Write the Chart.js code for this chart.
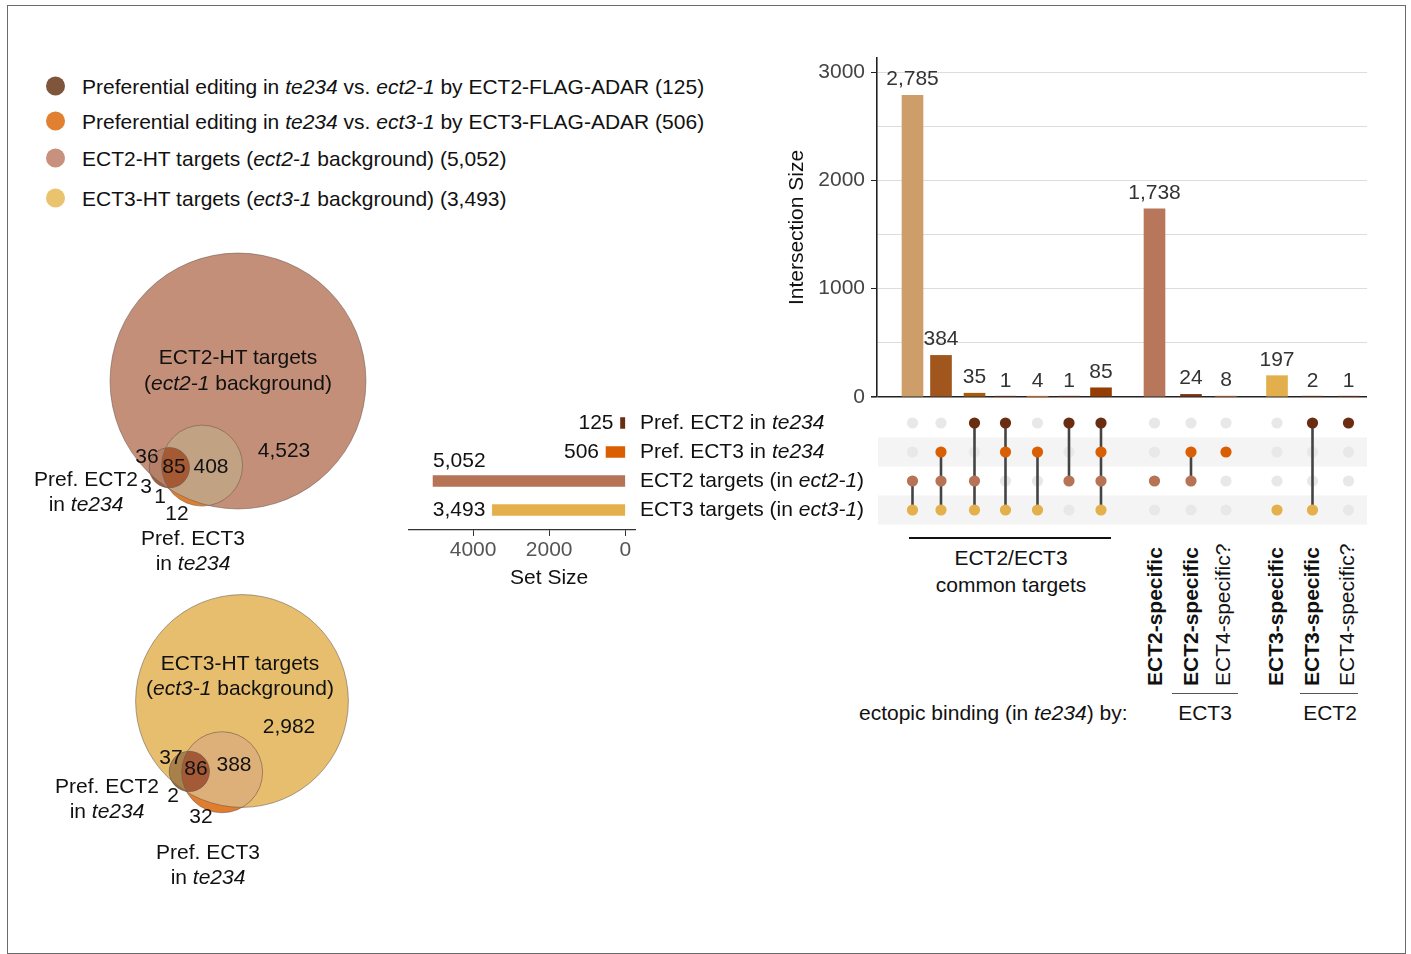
<!DOCTYPE html>
<html>
<head>
<meta charset="utf-8">
<title>ECT2 / ECT3 target overlaps</title>
<script src="https://cdn.jsdelivr.net/npm/chart.js@4.4.1/dist/chart.umd.min.js"></script>
<style>
  html, body { margin: 0; padding: 0; background: #fff; }
  body { width: 1411px; height: 954px; position: relative; overflow: hidden;
         font-family: "Liberation Sans", Arial, sans-serif; color: #111; }
  canvas { position: absolute; }
  .frame { position: absolute; left: 7px; top: 5px; width: 1399px; height: 949px;
           border: 1px solid #6b6b6b; box-sizing: border-box; }
  .t { position: absolute; white-space: nowrap; font-size: 21px; line-height: 1; }
  .c { transform: translate(-50%, -50%); }
  .l { transform: translateY(-50%); }
  .rot { transform: rotate(-90deg); transform-origin: 0 0; }
  .b { font-weight: bold; }
  .rule { position: absolute; }
  .leg { position: absolute; left: 46px; display: flex; align-items: center;
         font-size: 21px; line-height: 1; white-space: nowrap; transform: translateY(-50%); }
  .dot { width: 19px; height: 19px; border-radius: 50%; margin-right: 17px; flex: none; }
</style>
</head>
<body>
<div class="frame"></div>

<canvas id="venn" width="400" height="680" style="left:0;top:230px"></canvas>
<canvas id="matrix" width="510" height="130" style="left:870px;top:400px"></canvas>
<canvas id="bars" width="610" height="362" style="left:770px;top:50px"></canvas>
<canvas id="setsize" width="480" height="200" style="left:400px;top:395px"></canvas>

<div id="legend"></div>

<!-- Euler diagram captions -->
<div class="t c" style="left:238px;top:356px">ECT2-HT targets</div>
<div class="t c" style="left:238px;top:382px">(<i>ect2-1</i> background)</div>
<div class="t c" style="left:86px;top:478px">Pref. ECT2</div>
<div class="t c" style="left:86px;top:503px">in <i>te234</i></div>
<div class="t c" style="left:193px;top:537px">Pref. ECT3</div>
<div class="t c" style="left:193px;top:562px">in <i>te234</i></div>

<div class="t c" style="left:240px;top:662px">ECT3-HT targets</div>
<div class="t c" style="left:240px;top:687px">(<i>ect3-1</i> background)</div>
<div class="t c" style="left:107px;top:785px">Pref. ECT2</div>
<div class="t c" style="left:107px;top:810px">in <i>te234</i></div>
<div class="t c" style="left:208px;top:851px">Pref. ECT3</div>
<div class="t c" style="left:208px;top:876px">in <i>te234</i></div>

<!-- intersection group annotations -->
<div class="rule" style="left:909px;top:537px;width:202px;height:1.5px;background:#111"></div>
<div class="t c" style="left:1011px;top:557px">ECT2/ECT3</div>
<div class="t c" style="left:1011px;top:584px">common targets</div>

<div class="t rot b" style="left:1144px;top:686px">ECT2-specific</div>
<div class="t rot b" style="left:1180px;top:686px">ECT2-specific</div>
<div class="t rot"   style="left:1212px;top:686px">ECT4-specific?</div>
<div class="t rot b" style="left:1265px;top:686px">ECT3-specific</div>
<div class="t rot b" style="left:1301px;top:686px">ECT3-specific</div>
<div class="t rot"   style="left:1336px;top:686px">ECT4-specific?</div>

<div class="rule" style="left:1172px;top:693px;width:66px;height:1.3px;background:#555"></div>
<div class="rule" style="left:1300px;top:693px;width:58px;height:1.3px;background:#555"></div>
<div class="t l" style="left:859px;top:712px">ectopic binding (in <i>te234</i>) by:</div>
<div class="t c" style="left:1205px;top:712px">ECT3</div>
<div class="t c" style="left:1330px;top:712px">ECT2</div>

<script>
// ---------------- data ----------------
// sets, in matrix row order
const setSizes = [125, 506, 5052, 3493];
const setLabels = [
  [['Pref. ECT2 in ', false], ['te234', true]],
  [['Pref. ECT3 in ', false], ['te234', true]],
  [['ECT2 targets (in ', false], ['ect2-1', true], [')', false]],
  [['ECT3 targets (in ', false], ['ect3-1', true], [')', false]]
];
const setColors = ['#6A2D12', '#D95F02', '#B67356', '#E3B04B'];

// intersections: size and member rows (0 = Pref. ECT2, 1 = Pref. ECT3, 2 = ECT2 targets, 3 = ECT3 targets)
const intersectionSizes = [2785, 384, 35, 1, 4, 1, 85, 1738, 24, 8, 197, 2, 1];
const intersectionMembers = [[2, 3], [1, 2, 3], [0, 2, 3], [0, 1, 3], [1, 3], [0, 2], [0, 1, 2, 3],
                             [2], [1, 2], [1], [3], [0, 3], [0]];
const intersectionColors = ['#CD9E69', '#A0561C', '#A65C0A', '#5E2810', '#C8661A', '#5E2810', '#943E06',
                            '#B8775A', '#7D3414', '#DA783C', '#E3AF4C', '#5E2810', '#5E2810'];

// tick labels
const intersectionTicks = [0, 1000, 2000, 3000];
const setSizeTicks = [0, 2000, 4000];

// Euler diagrams: [big set, Pref. ECT3, Pref. ECT2] and the region counts
const vennSetsECT2 = [5052, 506, 125];
const vennRegionsECT2 = { bigOnly: 4523, bigP3: 408, bigP2: 36, all: 85, p2Only: 3, p2p3: 1, p3Only: 12 };
const vennSetsECT3 = [3493, 506, 125];
const vennRegionsECT3 = { bigOnly: 2982, bigP3: 388, bigP2: 37, all: 86, p2Only: 2, p2p3: 0, p3Only: 32 };

const legendItems = [
  { color: '#7F553C', html: 'Preferential editing in <i>te234</i> vs. <i>ect2-1</i> by ECT2-FLAG-ADAR', n: 125 },
  { color: '#E08030', html: 'Preferential editing in <i>te234</i> vs. <i>ect3-1</i> by ECT3-FLAG-ADAR', n: 506 },
  { color: '#C8917D', html: 'ECT2-HT targets (<i>ect2-1</i> background)', n: 5052 },
  { color: '#E9C36E', html: 'ECT3-HT targets (<i>ect3-1</i> background)', n: 3493 }
];

// ---------------- layout ----------------
const columnPos = [35.5, 64, 97.5, 128.5, 160.5, 192, 224, 277.5, 314, 349, 400, 435.5, 471.5];
const legendY = [86, 121, 158, 198];
const vennLayout = [
  { anchor: { x: 238, y: 381 }, angle: 113,
    labels: { bigOnly: [284, 451], bigP3: [211, 467], all: [174, 467], bigP2: [147, 457],
              p2Only: [146, 487], p2p3: [160, 497], p3Only: [177, 514] },
    palette: { big: '#C48F79', p3: '#E07E2E', p2: '#97613F', p3InBig: '#C1A283',
               p2InBig: '#B57F68', all: '#A65A33', p2p3: '#B8642C' } },
  { anchor: { x: 242, y: 701 }, angle: 105.6,
    labels: { bigOnly: [289, 727], bigP3: [234, 765], all: [196, 769], bigP2: [171, 758],
              p2Only: [173, 796], p3Only: [201, 817] },
    palette: { big: '#E6BE6D', p3: '#E07E2E', p2: '#8E6B3C', p3InBig: '#DDB07A',
               p2InBig: '#A88049', all: '#A45A36', p2p3: '#B8642C' } }
];

const FONT = "'Liberation Sans', Arial, sans-serif";
const fmt = v => v.toLocaleString('en-US');

Chart.defaults.font.family = FONT;
Chart.defaults.font.size = 21;
Chart.defaults.color = '#111';
Chart.defaults.animation = false;
Chart.defaults.plugins.legend.display = false;
Chart.defaults.plugins.tooltip.enabled = false;

function drawRich(ctx, segs, x, y, size, color) {
  let cx = x;
  ctx.textAlign = 'left';
  ctx.textBaseline = 'middle';
  ctx.fillStyle = color;
  segs.forEach(([txt, italic]) => {
    ctx.font = (italic ? 'italic ' : '') + size + 'px ' + FONT;
    ctx.fillText(txt, cx, y);
    cx += ctx.measureText(txt).width;
  });
}

// ---------------- legend ----------------
const legendHost = document.getElementById('legend');
legendItems.forEach((it, i) => {
  const row = document.createElement('div');
  row.className = 'leg';
  row.style.top = legendY[i] + 'px';
  row.innerHTML = '<span class="dot" style="background:' + it.color + '"></span><span>' +
                  it.html + ' (' + fmt(it.n) + ')</span>';
  legendHost.appendChild(row);
});

// ---------------- intersection size bars ----------------
const barValueLabels = {
  id: 'barValueLabels',
  afterDatasetsDraw(chart) {
    const { ctx } = chart;
    ctx.save();
    ctx.font = '21px ' + FONT;
    ctx.fillStyle = '#333';
    ctx.textAlign = 'center';
    ctx.textBaseline = 'alphabetic';
    chart.getDatasetMeta(0).data.forEach((bar, i) => {
      ctx.fillText(fmt(intersectionSizes[i]), bar.x, bar.y - 10);
    });
    ctx.restore();
  }
};

new Chart(document.getElementById('bars'), {
  type: 'bar',
  data: {
    datasets: [{
      data: intersectionSizes.map((v, i) => ({ x: columnPos[i], y: v })),
      backgroundColor: intersectionColors,
      barThickness: 21
    }]
  },
  options: {
    responsive: false,
    layout: { autoPadding: false, padding: { top: 8, right: 13, bottom: 15, left: 0 } },
    scales: {
      x: { type: 'linear', min: 0, max: 490, offset: false, display: false },
      y: {
        type: 'linear', min: 0, max: 3130,
        afterBuildTicks: s => { s.ticks = [0, 500, 1000, 1500, 2000, 2500, 3000].map(v => ({ value: v })); },
        afterFit: s => { s.width = 107; s.paddingTop = 0; s.paddingBottom = 0; },
        ticks: {
          callback: v => intersectionTicks.includes(v) ? String(v) : '',
          color: '#444', padding: 6, font: { size: 21 }
        },
        grid: {
          color: c => c.tick && c.tick.value === 0 ? '#222' : '#DDDDDD',
          lineWidth: c => c.tick && c.tick.value === 0 ? 1.6 : 1,
          tickLength: 6,
          tickColor: c => c.tick && intersectionTicks.includes(c.tick.value) ? '#222' : 'rgba(0,0,0,0)'
        },
        border: { display: true, color: '#222', width: 1.6 },
        title: { display: true, text: 'Intersection Size', color: '#111', font: { size: 21 },
                 padding: { top: 15, bottom: 0 } }
      }
    }
  },
  plugins: [barValueLabels]
});

// ---------------- membership matrix ----------------
const inactiveCells = [], activeCells = [], linkSegments = [];
intersectionMembers.forEach((rows, c) => {
  for (let r = 0; r < setSizes.length; r++) {
    (rows.includes(r) ? activeCells : inactiveCells).push({ x: columnPos[c], y: r });
  }
  if (rows.length > 1) {
    linkSegments.push({ x: columnPos[c], y: Math.min(...rows) },
                      { x: columnPos[c], y: Math.max(...rows) },
                      { x: columnPos[c], y: null });
  }
});

const rowBands = {
  id: 'rowBands',
  beforeDatasetsDraw(chart) {
    const { ctx, chartArea, scales: { y } } = chart;
    ctx.save();
    ctx.fillStyle = '#F4F4F4';
    [1, 3].forEach(r => {
      const top = y.getPixelForValue(r - 0.5), bottom = y.getPixelForValue(r + 0.5);
      ctx.fillRect(chartArea.left + 1, top, chartArea.right - chartArea.left - 1, bottom - top);
    });
    ctx.restore();
  }
};

new Chart(document.getElementById('matrix'), {
  type: 'scatter',
  data: {
    datasets: [
      { data: inactiveCells, pointRadius: 5.6, pointBackgroundColor: '#E8E8E8', pointBorderWidth: 0, order: 3 },
      { type: 'line', data: linkSegments, borderColor: '#444', borderWidth: 2.6, pointRadius: 0,
        spanGaps: false, fill: false, order: 2 },
      { data: activeCells, pointRadius: 5.6, pointBorderWidth: 0,
        pointBackgroundColor: c => setColors[c.raw.y], order: 1 }
    ]
  },
  options: {
    responsive: false,
    layout: { autoPadding: false, padding: { top: 8.5, right: 13, bottom: 5.5, left: 7 } },
    scales: {
      x: { type: 'linear', min: 0, max: 490, display: false },
      y: { type: 'linear', min: -0.5, max: 3.5, reverse: true, display: false }
    }
  },
  plugins: [rowBands]
});

// ---------------- set sizes ----------------
const setSizeLabels = {
  id: 'setSizeLabels',
  afterDatasetsDraw(chart) {
    const { ctx, chartArea, scales: { x } } = chart;
    ctx.save();
    chart.getDatasetMeta(0).data.forEach((bar, i) => {
      const txt = fmt(setSizes[i]);
      ctx.font = '21px ' + FONT;
      ctx.fillStyle = '#111';
      const w = ctx.measureText(txt).width;
      const left = Math.min(bar.x, bar.base);
      if (left - 7 - w >= chartArea.left) {
        ctx.textAlign = 'right';
        ctx.textBaseline = 'middle';
        ctx.fillText(txt, left - 7, bar.y);
      } else {
        ctx.textAlign = 'left';
        ctx.textBaseline = 'alphabetic';
        ctx.fillText(txt, left, bar.y - 13.5);
      }
      drawRich(ctx, setLabels[i], chartArea.right + 5, bar.y, 21, '#111');
    });
    // axis title, centred under the middle tick
    ctx.font = '21px ' + FONT;
    ctx.fillStyle = '#111';
    ctx.textAlign = 'center';
    ctx.textBaseline = 'middle';
    ctx.fillText('Set Size', x.getPixelForValue(setSizeTicks[1]), chartArea.bottom + 48);
    ctx.restore();
  }
};

new Chart(document.getElementById('setsize'), {
  type: 'bar',
  data: {
    datasets: [{
      data: setSizes.map((v, i) => ({ x: v, y: i })),
      backgroundColor: setColors,
      barThickness: 11
    }]
  },
  options: {
    indexAxis: 'y',
    responsive: false,
    layout: { autoPadding: false, padding: { top: 13.5, right: 245, bottom: 5, left: 9 } },
    scales: {
      y: { type: 'linear', min: -0.5, max: 3.69, reverse: true, offset: false, display: false },
      x: {
        type: 'linear', min: -255, max: 5684, reverse: true,
        afterBuildTicks: s => { s.ticks = setSizeTicks.map(v => ({ value: v })); },
        afterFit: s => { s.height = 60; s.paddingLeft = 0; s.paddingRight = 0; },
        ticks: { color: '#555', padding: 2, font: { size: 21 }, callback: v => String(v) },
        grid: { drawOnChartArea: false, drawTicks: true, tickLength: 6, tickColor: '#333' },
        border: { display: true, color: '#333', width: 1.2 }
      }
    }
  },
  plugins: [setSizeLabels]
});

// ---------------- Euler diagrams ----------------
const K = 1.8;  // radius per sqrt(count)

function lensArea(r1, r2, d) {
  if (d >= r1 + r2) return 0;
  if (d <= Math.abs(r1 - r2)) return Math.PI * Math.min(r1, r2) ** 2;
  const a = r1 * r1 * Math.acos((d * d + r1 * r1 - r2 * r2) / (2 * d * r1));
  const b = r2 * r2 * Math.acos((d * d + r2 * r2 - r1 * r1) / (2 * d * r2));
  const c = 0.5 * Math.sqrt((-d + r1 + r2) * (d + r1 - r2) * (d - r1 + r2) * (d + r1 + r2));
  return a + b - c;
}

function centreDistance(r1, r2, overlap) {
  let lo = Math.abs(r1 - r2), hi = r1 + r2;
  for (let i = 0; i < 80; i++) {
    const mid = (lo + hi) / 2;
    if (lensArea(r1, r2, mid) > overlap) lo = mid; else hi = mid;
  }
  return (lo + hi) / 2;
}

function eulerCircles(sets, regions, layout) {
  const [nBig, nP3, nP2] = sets;
  const rB = K * Math.sqrt(nBig), r3 = K * Math.sqrt(nP3), r2 = K * Math.sqrt(nP2);
  const unit = Math.PI * K * K;
  const dB3 = centreDistance(rB, r3, (regions.bigP3 + regions.all) * unit);
  const dB2 = centreDistance(rB, r2, (regions.bigP2 + regions.all) * unit);
  const d32 = centreDistance(r3, r2, (regions.all + regions.p2p3) * unit);
  const a = layout.angle * Math.PI / 180, ux = Math.cos(a), uy = Math.sin(a);
  const B = layout.anchor;
  const along = (dB2 * dB2 - d32 * d32 + dB3 * dB3) / (2 * dB3);
  const perp = Math.sqrt(Math.max(0, dB2 * dB2 - along * along));
  return [
    { x: B.x, y: B.y, r: rB },
    { x: B.x + dB3 * ux, y: B.y + dB3 * uy, r: r3 },
    { x: B.x + along * ux - perp * uy, y: B.y + along * uy + perp * ux, r: r2 }
  ];
}

const vennData = [[vennSetsECT2, vennRegionsECT2], [vennSetsECT3, vennRegionsECT3]];

const eulerRegions = {
  id: 'eulerRegions',
  afterDatasetsDraw(chart) {
    const { ctx } = chart;
    chart.data.datasets.forEach((ds, di) => {
      const pal = vennLayout[di].palette;
      const [B, P3, P2] = chart.getDatasetMeta(di).data.map((p, k) => ({ x: p.x, y: p.y, r: ds.data[k].r }));
      const circ = q => { ctx.beginPath(); ctx.arc(q.x, q.y, q.r, 0, Math.PI * 2); };

      ctx.save();
      circ(B); ctx.clip();
      circ(P3); ctx.fillStyle = pal.p3InBig; ctx.fill();
      circ(P2); ctx.fillStyle = pal.p2InBig; ctx.fill();
      circ(P3); ctx.clip();
      circ(P2); ctx.fillStyle = pal.all; ctx.fill();
      ctx.restore();

      // Pref. ECT2 ∩ Pref. ECT3 outside the big set
      ctx.save();
      circ(P3); ctx.clip();
      ctx.beginPath();
      ctx.rect(0, 0, chart.width, chart.height);
      ctx.arc(B.x, B.y, B.r, 0, Math.PI * 2);
      ctx.clip('evenodd');
      circ(P2); ctx.fillStyle = pal.p2p3; ctx.fill();
      ctx.restore();

      ctx.save();
      ctx.strokeStyle = 'rgba(105,90,80,0.55)';
      ctx.lineWidth = 1;
      [B, P3, P2].forEach(q => { circ(q); ctx.stroke(); });
      ctx.restore();

      // region counts
      const regions = vennData[di][1];
      const pos = vennLayout[di].labels;
      ctx.save();
      ctx.font = '21px ' + FONT;
      ctx.fillStyle = '#111';
      ctx.textAlign = 'center';
      ctx.textBaseline = 'middle';
      Object.keys(pos).forEach(key => {
        const px = chart.scales.x.getPixelForValue(pos[key][0]);
        const py = chart.scales.y.getPixelForValue(pos[key][1]);
        ctx.fillText(fmt(regions[key]), px, py);
      });
      ctx.restore();
    });
  }
};

new Chart(document.getElementById('venn'), {
  type: 'bubble',
  data: {
    datasets: vennData.map(([sets, regions], i) => {
      const circles = eulerCircles(sets, regions, vennLayout[i]);
      const pal = vennLayout[i].palette;
      return {
        data: circles,
        backgroundColor: [pal.big, pal.p3, pal.p2],
        borderWidth: 0,
        clip: false
      };
    })
  },
  options: {
    responsive: false,
    layout: { autoPadding: false, padding: 0 },
    scales: {
      x: { type: 'linear', min: 0, max: 400, display: false },
      y: { type: 'linear', min: 230, max: 910, reverse: true, display: false }
    }
  },
  plugins: [eulerRegions]
});
</script>
</body>
</html>
